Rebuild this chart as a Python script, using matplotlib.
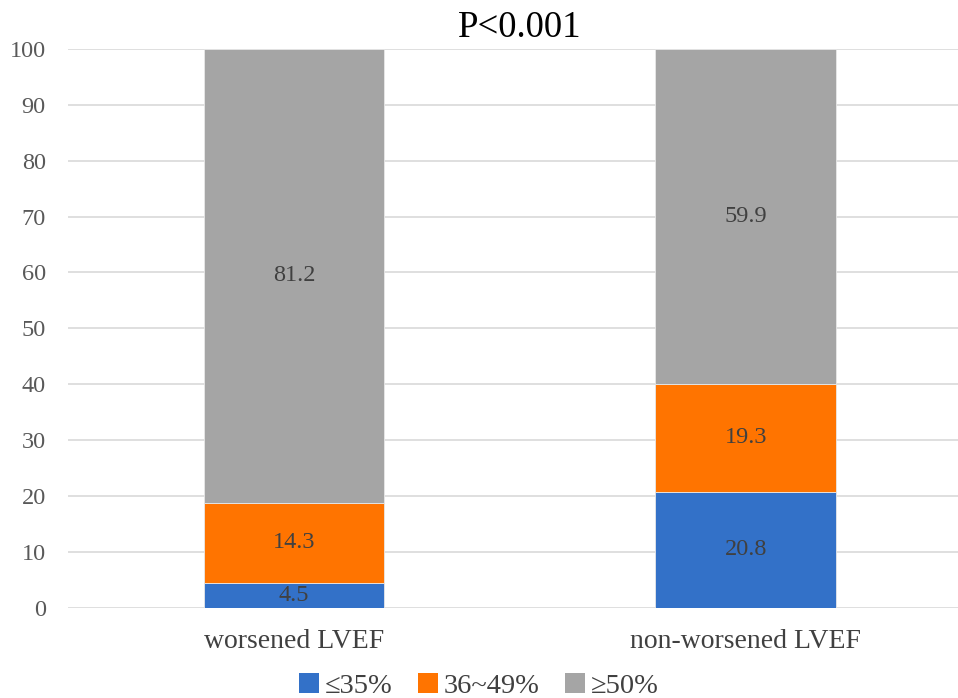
import numpy as np
import matplotlib.pyplot as plt
from matplotlib.patches import Patch

plt.rcParams['font.family'] = ['Liberation Serif', 'DejaVu Serif']

# data
groups = ['worsened LVEF', 'non-worsened LVEF']
series = ['≤35%', '36~49%', '≥50%']
low = [4.5, 20.8]
mid = [14.3, 19.3]
high = [81.2, 59.9]
colors = ['#3371C8', '#FF7400', '#A5A5A5']

fig = plt.figure(figsize=(9.58, 6.98), dpi=100)
ax = fig.add_axes([0.071, 0.129, 0.929, 0.801])

x = np.arange(len(groups))
width = 0.4
bottom = np.zeros(len(groups))
for vals, col in zip([low, mid, high], colors):
    vals = np.array(vals)
    bars = ax.bar(x, vals, width, bottom=bottom, color=col,
                  edgecolor='#E8E8E8', linewidth=0.6, zorder=3)
    for xi, b, v in zip(x, bottom, vals):
        ax.text(xi, b + v / 2, f'{v:.1f}', ha='center', va='center',
                fontsize=17.5, color='#404040', zorder=4)
    bottom += vals

ax.set_ylim(0, 100)
ax.set_xlim(-0.5, 1.47)
ax.set_yticks(np.arange(0, 101, 10))
ax.yaxis.grid(True, color='#D9D9D9', linewidth=1.2, zorder=0)
ax.set_xticks(x)
ax.set_xticklabels(groups)
ax.tick_params(axis='y', length=0, labelsize=17.5, labelcolor='#595959', pad=16)
ax.tick_params(axis='x', length=0, labelsize=20, labelcolor='#404040', pad=15)
for s in ax.spines.values():
    s.set_visible(False)

fig.text(0.543, 0.96, 'P<0.001', ha='center', va='center', fontsize=26.5, color='black')

handles = [Patch(facecolor=c, edgecolor='none') for c in colors]
fig.legend(handles, series, loc='center', bbox_to_anchor=(0.5, 0.017), ncol=3,
           frameon=False, fontsize=20.5, handlelength=0.7, handleheight=0.7,
           handletextpad=0.2, columnspacing=0.9, labelcolor='#404040')

plt.savefig('out.png', dpi=100)
